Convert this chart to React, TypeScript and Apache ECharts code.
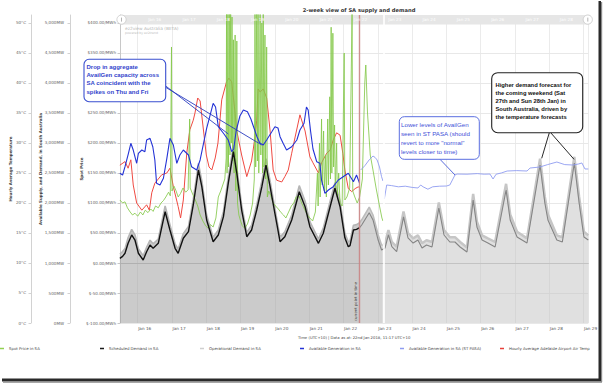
import React, { useEffect, useRef } from "react";
import * as echarts from "echarts";

const FONT = "DejaVu Sans";
const ANNO_FONT = "Liberation Sans";

// x values are days of January 2018 (UTC+10), e.g. 18.5 = Jan 18 12:00
const X_MIN = 15.484;
const X_MAX = 29.137;
const CURRENT_TIME = 22.47;
const PASA_START = 23.155;

const PRICE_MIN = -100;
const PRICE_MAX = 413.333;
const PRICE_STEP = 50;
const MW_MIN = 0;
const MW_MAX = 5133.33;
const MW_STEP = 500;
const TEMP_MIN = 0;
const TEMP_MAX = 51.333;
const TEMP_STEP = 5;

const spotPrice: [number, number][] = [
  [15.48, 105], [15.56, 100], [15.63, 102], [15.7, 92], [15.78, 85], [15.85, 80], [15.92, 83], [16.0, 78],
  [16.08, 85], [16.15, 80], [16.22, 88], [16.3, 84], [16.38, 90], [16.45, 86], [16.52, 95], [16.6, 92],
  [16.68, 100], [16.75, 104], [16.82, 110], [16.9, 118], [16.95, 112], [16.985, 360], [17.0, 120], [17.06, 128],
  [17.12, 120], [17.18, 110], [17.25, 116], [17.32, 125], [17.4, 118], [17.47, 122], [17.515, 240], [17.53, 125],
  [17.6, 115], [17.68, 105], [17.75, 95], [17.82, 80], [17.9, 70], [17.98, 62], [18.05, 58], [18.12, 64],
  [18.2, 60], [18.28, 75], [18.35, 110], [18.42, 120], [18.48, 130], [18.54, 140], [18.58, 175], [18.59, 430],
  [18.605, 150], [18.63, 420], [18.645, 160], [18.67, 430], [18.69, 180], [18.71, 430], [18.73, 200], [18.75, 410],
  [18.77, 170], [18.79, 372], [18.81, 150], [18.84, 380], [18.86, 120], [18.89, 370], [18.91, 100], [18.95, 80],
  [19.0, 70], [19.05, 62], [19.12, 58], [19.2, 65], [19.28, 80], [19.35, 100], [19.4, 140], [19.42, 430],
  [19.44, 160], [19.47, 430], [19.49, 170], [19.51, 430], [19.53, 150], [19.57, 430], [19.59, 180], [19.62, 400],
  [19.64, 150], [19.66, 430], [19.68, 160], [19.71, 380], [19.73, 140], [19.76, 360], [19.78, 110], [19.82, 120],
  [19.88, 112], [19.95, 100], [20.02, 95], [20.1, 90], [20.18, 84], [20.25, 80], [20.32, 75], [20.4, 85],
  [20.48, 95], [20.55, 100], [20.62, 110], [20.7, 112], [20.78, 100], [20.86, 90], [20.95, 80], [21.02, 75],
  [21.1, 70], [21.18, 85], [21.24, 150], [21.26, 95], [21.3, 200], [21.32, 110], [21.36, 240], [21.38, 130],
  [21.42, 220], [21.44, 120], [21.48, 180], [21.5, 110], [21.54, 240], [21.56, 130], [21.6, 277], [21.62, 140],
  [21.64, 393], [21.66, 150], [21.69, 383], [21.71, 160], [21.74, 230], [21.76, 120], [21.8, 200], [21.82, 110],
  [21.86, 150], [21.9, 100], [21.96, 95], [22.02, 350], [22.04, 105], [22.1, 110], [22.18, 125], [22.25, 420],
  [22.27, 120], [22.33, 110], [22.4, 100], [22.47, 110], [22.55, 140], [22.62, 300], [22.65, 330], [22.7, 250],
  [22.78, 180], [22.86, 155], [22.95, 125], [23.05, 95], [23.12, 75], [23.15, 70],
];

const scheduledDemand: [number, number][] = [
  [15.48, 1078], [15.56, 1110], [15.63, 1162], [15.72, 1330], [15.825, 1467], [15.92, 1383], [16.02, 1162],
  [16.16, 1050], [16.26, 1188], [16.36, 1300], [16.45, 1245], [16.6, 1328], [16.8, 1855], [16.94, 1550],
  [17.09, 1245], [17.18, 1162], [17.33, 1412], [17.48, 1522], [17.62, 1967], [17.77, 2550], [17.87, 2272],
  [18.01, 1717], [18.2, 1355], [18.35, 1467], [18.5, 1772], [18.64, 2328], [18.79, 2855], [18.89, 2495],
  [19.03, 1883], [19.18, 1438], [19.32, 1550], [19.47, 1883], [19.62, 2272], [19.74, 2633], [19.86, 2272],
  [20.0, 1828], [20.15, 1355], [20.29, 1438], [20.49, 1717], [20.71, 2188], [20.88, 1938], [21.02, 1605],
  [21.27, 1328], [21.41, 1495], [21.61, 1938], [21.75, 2245], [21.9, 1938], [22.04, 1420], [22.14, 1272],
  [22.19, 1290], [22.29, 1550], [22.38, 1560], [22.47, 1590],
];

const operationalDemand: [number, number][] = [
  [15.48, 1150], [15.56, 1190], [15.63, 1240], [15.72, 1420], [15.825, 1560], [15.92, 1470], [16.02, 1240],
  [16.16, 1120], [16.26, 1260], [16.36, 1380], [16.45, 1320], [16.6, 1400], [16.8, 1950], [16.94, 1640],
  [17.09, 1320], [17.18, 1230], [17.33, 1490], [17.48, 1610], [17.62, 2060], [17.77, 2660], [17.87, 2370],
  [18.01, 1800], [18.2, 1430], [18.35, 1550], [18.5, 1860], [18.64, 2430], [18.79, 2960], [18.89, 2590],
  [19.03, 1970], [19.18, 1510], [19.32, 1630], [19.47, 1970], [19.62, 2370], [19.74, 2740], [19.86, 2370],
  [20.0, 1910], [20.15, 1430], [20.29, 1520], [20.49, 1800], [20.71, 2290], [20.88, 2030], [21.02, 1690],
  [21.27, 1400], [21.41, 1580], [21.61, 2030], [21.75, 2340], [21.9, 2030], [22.04, 1500], [22.14, 1350],
  [22.19, 1370], [22.29, 1630], [22.38, 1640], [22.47, 1670],
];

const operationalDemandPD: [number, number][] = [
  [22.47, 1670], [22.53, 1720], [22.75, 1930], [22.86, 1800], [23.01, 1470], [23.11, 1300], [23.145, 1300],
];

const operationalDemandSTPASA: [number, number][] = [
  [23.165, 1310], [23.21, 1330], [23.31, 1550], [23.41, 1350], [23.55, 1270], [23.7, 1710], [23.75, 1860],
  [23.88, 1500], [24.03, 1410], [24.17, 1460], [24.29, 1330], [24.42, 1380], [24.58, 1350], [24.78, 2010],
  [24.93, 1550], [25.1, 1430], [25.25, 1430], [25.4, 1350], [25.6, 1260], [25.78, 2150], [25.89, 1690],
  [26.04, 1460], [26.21, 1410], [26.42, 1350], [26.74, 2320], [26.86, 1810], [27.06, 1520], [27.35, 1410],
  [27.73, 2740], [27.87, 2100], [27.96, 1810], [28.22, 1460], [28.38, 1430], [28.73, 2770], [28.87, 2100],
  [29.01, 1520], [29.137, 1460],
];

const scheduledDemandForecast: [number, number][] = [
  [22.47, 1590], [22.53, 1633], [22.75, 1838], [22.86, 1717], [23.01, 1383], [23.11, 1217], [23.21, 1250],
  [23.31, 1467], [23.41, 1272], [23.55, 1188], [23.7, 1620], [23.75, 1767], [23.88, 1417], [24.03, 1333],
  [24.17, 1383], [24.29, 1250], [24.42, 1300], [24.58, 1267], [24.78, 1917], [24.93, 1467], [25.1, 1350],
  [25.25, 1350], [25.4, 1267], [25.6, 1183], [25.78, 2050], [25.89, 1600], [26.04, 1383], [26.21, 1333],
  [26.42, 1267], [26.74, 2217], [26.86, 1717], [27.06, 1433], [27.35, 1333], [27.73, 2633], [27.87, 2000],
  [27.96, 1717], [28.22, 1383], [28.38, 1350], [28.73, 2667], [28.87, 2000], [29.01, 1433], [29.137, 1383],
];

const availableGeneration: [number, number][] = [
  [15.48, 2495], [15.56, 2467], [15.63, 2605], [15.73, 2828], [15.8, 2995], [15.87, 2883], [15.97, 2662],
  [16.02, 2828], [16.12, 2883], [16.21, 2855], [16.26, 3050], [16.36, 3078], [16.44, 2938], [16.5, 2717],
  [16.55, 2328], [16.65, 2300], [16.75, 2412], [16.85, 2745], [16.94, 3078], [17.04, 2967], [17.14, 2662],
  [17.23, 2800], [17.33, 2883], [17.48, 2800], [17.57, 2605], [17.72, 2550], [17.82, 2717], [18.01, 3245],
  [18.1, 3438], [18.2, 3662], [18.27, 3600], [18.35, 3272], [18.5, 3162], [18.64, 3050], [18.74, 2855],
  [18.8, 2900], [18.87, 3200], [18.98, 3450], [19.08, 3550], [19.2, 3520], [19.3, 3400], [19.38, 3267],
  [19.48, 3100], [19.56, 3000], [19.66, 2967], [19.76, 3050], [19.91, 3188], [20.0, 3272], [20.09, 3250],
  [20.15, 3105], [20.24, 2995], [20.34, 2883], [20.49, 2938], [20.64, 3050], [20.73, 3217], [20.85, 3328],
  [20.92, 3600], [20.97, 3550], [21.04, 3200], [21.11, 2900], [21.22, 2688], [21.31, 2662], [21.36, 2383],
  [21.46, 2162], [21.56, 2217], [21.7, 2272], [21.85, 2383], [21.99, 2438], [22.14, 2495], [22.29, 2355],
  [22.38, 2467], [22.47, 2328],
];

const availableGenerationSTPASA: [number, number | null][] = [
  [22.5, 2550], [22.62, 2620], [22.75, 2720], [22.86, 2783], [22.92, 2760], [22.98, 2717], [23.05, 2600],
  [23.11, 2438], [23.15, 2367], [23.165, null], [23.19, 2067], [23.26, 2300], [23.4, 2290], [23.6, 2270],
  [23.8, 2280], [24.0, 2260], [24.17, 2250], [24.25, 2300], [24.32, 2270], [24.46, 2230], [24.6, 2270],
  [24.8, 2280], [25.0, 2283], [25.1, 2300], [25.25, 2467], [25.31, 2483], [25.6, 2480], [25.9, 2490],
  [26.1, 2480], [26.27, 2483], [26.36, 2400], [26.45, 2480], [26.6, 2500], [26.77, 2533], [27.05, 2540],
  [27.35, 2533], [27.44, 2583], [27.73, 2600], [27.95, 2640], [28.22, 2683], [28.45, 2640], [28.69, 2633],
  [28.85, 2650], [28.95, 2667], [29.04, 2567], [29.137, 2567],
];

const airTemperature: [number, number][] = [
  [15.48, 26.3], [15.63, 26.9], [15.72, 25.8], [15.8, 27.2], [15.87, 23], [15.97, 20], [16.12, 18.8],
  [16.26, 19.7], [16.34, 18.8], [16.41, 21.7], [16.5, 23.3], [16.7, 24.7], [16.85, 25], [16.94, 25.8],
  [17.04, 22.7], [17.18, 19.4], [17.25, 17.5], [17.33, 20.5], [17.43, 28.3], [17.52, 32.2], [17.62, 33.8],
  [17.67, 35], [17.75, 37.5], [17.82, 37], [17.9, 33], [18.0, 28], [18.08, 26], [18.16, 25.5], [18.26, 27.5],
  [18.34, 30], [18.45, 37.2], [18.59, 40.2], [18.66, 40.8], [18.74, 40.2], [18.82, 36], [18.89, 32],
  [19.03, 28], [19.18, 24.4], [19.32, 27], [19.42, 31], [19.47, 33.8], [19.51, 39], [19.57, 38.5], [19.66, 39],
  [19.76, 37.5], [19.86, 32], [19.95, 25.5], [20.05, 23.8], [20.2, 23.5], [20.29, 24.4], [20.39, 25.5],
  [20.49, 28.3], [20.59, 31], [20.73, 34.7], [20.88, 32], [21.02, 27.7], [21.11, 26.7], [21.27, 25],
  [21.36, 26.7], [21.51, 28.3], [21.61, 28.8], [21.7, 30.5], [21.8, 31.7], [21.9, 31.3], [21.98, 28.3],
  [22.04, 25.5], [22.14, 22.4], [22.24, 21.9], [22.34, 22.4], [22.43, 22.7], [22.47, 22.5],
];

const legendNames = [
  "Spot Price in SA",
  "Scheduled Demand in SA",
  "Operational Demand in SA",
  "Available Generation in SA",
  "Available Generation in SA (ST PASA)",
  "Hourly Average Adelaide Airport Air Temp",
];
const legendColors = ["#92d050", "#1a1a1a", "#cfcfcf", "#2433d6", "#8f9cf0", "#e8403a"];

const dayLabel = (v: number) => {
  const r = Math.round(v);
  return Math.abs(v - r) < 1e-6 ? "Jan " + r : "";
};
const moneyLabel = (v: number) => "$" + v.toFixed(2) + "/MWh";
const mwLabel = (v: number) => {
  const r = Math.round(v);
  if (r >= 1000) return Math.floor(r / 1000) + "," + String(r % 1000).padStart(3, "0") + "MW";
  return r + "MW";
};

const axisLabelStyle = { fontSize: 4.1, color: "#666", fontFamily: FONT };
const axisNameStyle = { fontSize: 4, color: "#444", fontFamily: FONT, fontWeight: "bold" as const };

function annoText(text: string, x: number, y: number, color: string, size: number, lh: number, bold: boolean) {
  return {
    type: "text",
    z: 101,
    silent: true,
    style: {
      text,
      x,
      y,
      fill: color,
      fontSize: size,
      fontWeight: bold ? "bold" : "normal",
      fontFamily: ANNO_FONT,
      lineHeight: lh,
      align: "left",
      textAlign: "left",
      verticalAlign: "top",
      textVerticalAlign: "top",
    },
  };
}

function buildOption(): any {
  const lineBase = { type: "line", showSymbol: false, symbol: "none", silent: true, animation: false, emphasis: { disabled: true } };
  return {
    animation: false,
    backgroundColor: "#ffffff",
    title: {
      text: "2-week view of SA supply and demand",
      left: 354,
      top: 2.5,
      textAlign: "center",
      textStyle: { fontSize: 5.2, fontWeight: "bold", color: "#333", fontFamily: FONT },
    },
    grid: { left: 120, right: 15.7, top: 15, bottom: 61, containLabel: false, outerBoundsMode: "none" },
    xAxis: [
      {
        type: "value",
        min: X_MIN,
        max: X_MAX,
        splitNumber: 14,
        minInterval: 1,
        maxInterval: 1,
        position: "bottom",
        axisLine: { show: true, lineStyle: { color: "#c4c4c4", width: 1 } },
        axisTick: { show: false },
        splitLine: { show: true, lineStyle: { color: "#e6e6e6", width: 0.8 } },
        axisLabel: { ...axisLabelStyle, color: "#555", fontSize: 4.2, formatter: dayLabel, showMinLabel: false, showMaxLabel: false, padding: [0, 0, 0, 14], margin: 3.5 },
        name: "Time (UTC+10) | Data as at: 22nd Jan 2018, 11:17 UTC+10",
        nameLocation: "middle",
        nameGap: 12.5,
        nameMoveOverlap: false,
        nameTextStyle: { fontSize: 3.8, color: "#444", fontFamily: FONT },
      },
      {
        type: "value",
        min: X_MIN,
        max: X_MAX,
        splitNumber: 14,
        minInterval: 1,
        maxInterval: 1,
        position: "top",
        z: 5,
        axisLine: { show: false },
        axisTick: { show: false },
        splitLine: { show: false },
        axisLabel: {
          inside: true,
          fontSize: 4.2,
          color: "#ffffff",
          fontFamily: FONT,
          formatter: (v: number) => (v < 28.5 ? dayLabel(v) : ""),
          showMinLabel: false,
          showMaxLabel: false,
          padding: [0, 0, 0, 34],
          margin: 2.5,
        },
      },
    ],
    yAxis: [
      {
        type: "value",
        min: PRICE_MIN,
        max: PRICE_MAX,
        interval: PRICE_STEP,
        position: "left",
        offset: 0,
        axisLine: { show: true, lineStyle: { color: "#c8c8c8" } },
        axisTick: { show: true, length: 2.5, lineStyle: { color: "#c8c8c8" } },
        splitLine: { show: true, lineStyle: { color: "#e2e2e2", width: 0.8 } },
        axisLabel: { ...axisLabelStyle, formatter: moneyLabel, showMaxLabel: false, margin: 4 },
        name: "Spot Price",
        nameLocation: "middle",
        nameRotate: 90,
        nameGap: 37,
        nameMoveOverlap: false,
        nameTextStyle: axisNameStyle,
      },
      {
        type: "value",
        min: MW_MIN,
        max: MW_MAX,
        interval: MW_STEP,
        position: "left",
        offset: 50,
        axisLine: { show: true, lineStyle: { color: "#d2d2d2" } },
        axisTick: { show: true, length: 2.5, lineStyle: { color: "#d2d2d2" } },
        splitLine: { show: false },
        axisLabel: { ...axisLabelStyle, formatter: mwLabel, showMaxLabel: false, margin: 6 },
        name: "Available Supply, and Demand, in South Australia",
        nameLocation: "middle",
        nameRotate: 90,
        nameGap: 28,
        nameMoveOverlap: false,
        nameTextStyle: axisNameStyle,
      },
      {
        type: "value",
        min: TEMP_MIN,
        max: TEMP_MAX,
        interval: TEMP_STEP,
        position: "left",
        offset: 89,
        axisLine: { show: true, lineStyle: { color: "#d2d2d2" } },
        axisTick: { show: true, length: 2.5, lineStyle: { color: "#d2d2d2" } },
        splitLine: { show: false },
        axisLabel: { ...axisLabelStyle, formatter: (v: number) => v + "°C", showMaxLabel: false, margin: 5 },
        name: "Hourly Average Temperature",
        nameLocation: "middle",
        nameRotate: 90,
        nameGap: 19,
        nameMoveOverlap: false,
        nameTextStyle: axisNameStyle,
      },
    ],
    legend: legendNames.map((name, i) => ({
      data: [{ name, icon: "rect", itemStyle: { color: legendColors[i] }, lineStyle: { width: 1, color: legendColors[i] } }],
      left: i * 100,
      top: 346.5,
      padding: 0,
      itemWidth: 4,
      itemHeight: 1.5,
      selectedMode: false,
      textStyle: { fontSize: 3.9, color: "#444", fontFamily: FONT },
    })),
    series: [
      {
        ...lineBase,
        name: "Operational Demand in SA",
        yAxisIndex: 1,
        data: operationalDemand,
        lineStyle: { color: "#b6b6b6", width: 1.6 },
        itemStyle: { color: "#cfcfcf" },
        areaStyle: { color: "#a0a0a0", opacity: 0.55 },
      },
      {
        ...lineBase,
        name: "Operational Demand in SA (pre-dispatch)",
        yAxisIndex: 1,
        data: operationalDemandPD,
        lineStyle: { color: "#bdbdbd", width: 1.6 },
        itemStyle: { color: "#cfcfcf" },
        areaStyle: { color: "#b0b0b0", opacity: 0.55 },
      },
      {
        ...lineBase,
        name: "Operational Demand in SA (ST PASA)",
        yAxisIndex: 1,
        data: operationalDemandSTPASA,
        lineStyle: { color: "#c6c6c6", width: 2.5 },
        itemStyle: { color: "#cfcfcf" },
        areaStyle: { color: "#c2c2c2", opacity: 0.5 },
        markLine: {
          silent: true,
          symbol: ["none", "none"],
          animation: false,
          data: [{ xAxis: PASA_START }],
          lineStyle: { color: "#ffffff", width: 1.6, type: "solid", opacity: 1 },
          label: { show: false },
        },
      },
      {
        ...lineBase,
        name: "Hourly Average Adelaide Airport Air Temp",
        yAxisIndex: 2,
        data: airTemperature,
        lineStyle: { color: "#ef4a42", width: 1 },
        itemStyle: { color: "#e8403a" },
        markLine: {
          silent: true,
          symbol: ["none", "none"],
          animation: false,
          data: [{ xAxis: CURRENT_TIME }],
          lineStyle: { color: "#c98484", width: 1.4, type: "solid", opacity: 0.9 },
          label: {
            show: true,
            position: "insideStartTop",
            formatter: "current point in time",
            fontSize: 3.8,
            color: "#333",
            fontFamily: FONT,
            distance: 2,
          },
        },
      },
      {
        ...lineBase,
        name: "Spot Price in SA",
        yAxisIndex: 0,
        data: spotPrice,
        clip: true,
        lineStyle: { color: "#86c94c", width: 1, opacity: 0.85 },
        itemStyle: { color: "#92d050" },
      },
      {
        ...lineBase,
        name: "Scheduled Demand in SA (forecast)",
        yAxisIndex: 1,
        data: scheduledDemandForecast,
        lineStyle: { color: "#858585", width: 1.1 },
        itemStyle: { color: "#858585" },
      },
      {
        ...lineBase,
        name: "Scheduled Demand in SA",
        yAxisIndex: 1,
        data: scheduledDemand,
        lineStyle: { color: "#111111", width: 1.4 },
        itemStyle: { color: "#1a1a1a" },
      },
      {
        ...lineBase,
        name: "Available Generation in SA",
        yAxisIndex: 1,
        data: availableGeneration,
        lineStyle: { color: "#2433d6", width: 1.1 },
        itemStyle: { color: "#2433d6" },
      },
      {
        ...lineBase,
        name: "Available Generation in SA (ST PASA)",
        yAxisIndex: 1,
        data: availableGenerationSTPASA,
        connectNulls: false,
        lineStyle: { color: "#8f9cf0", width: 0.9 },
        itemStyle: { color: "#8f9cf0" },
      },
    ],
    graphic: [
      // navigator band
      { type: "rect", z: 1, silent: true, shape: { x: 120, y: 15, width: 468.3, height: 9.5 }, style: { fill: "#e6e6e6" } },
      { type: "circle", z: 20, silent: true, shape: { cx: 121.5, cy: 19.6, r: 4.6 }, style: { fill: "#ffffff", stroke: "#c6c6c6", lineWidth: 0.8 } },
      { type: "line", z: 21, silent: true, shape: { x1: 121.5, y1: 17.6, x2: 121.5, y2: 21.6 }, style: { stroke: "#a0a0a0", lineWidth: 0.8 } },
      { type: "circle", z: 20, silent: true, shape: { cx: 587.8, cy: 19.6, r: 4.6 }, style: { fill: "#ffffff", stroke: "#c6c6c6", lineWidth: 0.8 } },
      { type: "line", z: 21, silent: true, shape: { x1: 587.8, y1: 17.6, x2: 587.8, y2: 21.6 }, style: { stroke: "#a0a0a0", lineWidth: 0.8 } },
      // watermark
      { type: "text", z: 3, silent: true, style: { text: "ez2view Australia (BETA)", x: 125, y: 26, fill: "#b4b4b4", fontSize: 4.3, fontFamily: FONT, verticalAlign: "top", textVerticalAlign: "top" } },
      { type: "text", z: 3, silent: true, style: { text: "powered by ez2trend", x: 125, y: 31.6, fill: "#bdbdbd", fontSize: 3.1, fontFamily: FONT, verticalAlign: "top", textVerticalAlign: "top" } },
      // annotation A
      { type: "line", z: 99, silent: true, shape: { x1: 165.7, y1: 86, x2: 228.3, y2: 134 }, style: { stroke: "#2a3cc0", lineWidth: 0.9 } },
      { type: "line", z: 99, silent: true, shape: { x1: 165.7, y1: 87.3, x2: 261.7, y2: 145 }, style: { stroke: "#2a3cc0", lineWidth: 0.9 } },
      { type: "rect", z: 100, silent: true, shape: { x: 84, y: 59.3, width: 81.7, height: 42.4, r: 5 }, style: { fill: "#ffffff", stroke: "#3a4fd0", lineWidth: 1.1 } },
      annoText("Drop in aggregate\nAvailGen capacity across\nSA coincident with the\nspikes on Thu and Fri", 86.5, 62.5, "#3344cc", 6, 8.3, true),
      // annotation B
      { type: "line", z: 99, silent: true, shape: { x1: 549.3, y1: 132.7, x2: 541.7, y2: 158.3 }, style: { stroke: "#111", lineWidth: 0.9 } },
      { type: "line", z: 99, silent: true, shape: { x1: 550.7, y1: 132.7, x2: 574, y2: 159.3 }, style: { stroke: "#111", lineWidth: 0.9 } },
      { type: "rect", z: 100, silent: true, shape: { x: 491.7, y: 72.7, width: 91, height: 60, r: 6 }, style: { fill: "#ffffff", stroke: "#222", lineWidth: 1.1 } },
      annoText("Higher demand forecast for\nthe coming weekend (Sat\n27th and Sun 28th Jan) in\nSouth Australia, driven by\nthe temperature forecasts", 495.5, 81, "#111", 5.8, 7.9, true),
      // annotation C
      { type: "line", z: 99, silent: true, shape: { x1: 440, y1: 159.3, x2: 455, y2: 175 }, style: { stroke: "#4a5ed8", lineWidth: 0.9 } },
      { type: "rect", z: 100, silent: true, shape: { x: 399.3, y: 116.7, width: 80, height: 42.6, r: 5 }, style: { fill: "#ffffff", stroke: "#5a6ee0", lineWidth: 1 } },
      annoText('Lower levels of AvailGen\nseen in ST PASA (should\nrevert to more "normal"\nlevels closer to time)', 401, 120.5, "#3f51d8", 6.2, 8.9, false),
      // screenshot frame shadow
      { type: "rect", z: 200, silent: true, shape: { x: 598.5, y: 1, width: 2.5, height: 380 }, style: { fill: "#2a2a2a" } },
      { type: "rect", z: 200, silent: true, shape: { x: 601, y: 2, width: 1.2, height: 380 }, style: { fill: "#8a8a8a" } },
      { type: "rect", z: 200, silent: true, shape: { x: 2, y: 378.5, width: 599, height: 3 }, style: { fill: "#2a2a2a" } },
      { type: "rect", z: 200, silent: true, shape: { x: 3, y: 381.5, width: 599, height: 1.2 }, style: { fill: "#8a8a8a" } },
    ],
  };
}

export default function App() {
  const ref = useRef<HTMLDivElement>(null);
  useEffect(() => {
    if (!ref.current) return;
    const chart = echarts.init(ref.current, null, { renderer: "svg", width: 604, height: 384 });
    chart.setOption(buildOption());
    return () => chart.dispose();
  }, []);
  return (
    <div
      ref={ref}
      style={{ position: "fixed", left: 0, top: 0, width: 604, height: 384, background: "#ffffff" }}
    />
  );
}
